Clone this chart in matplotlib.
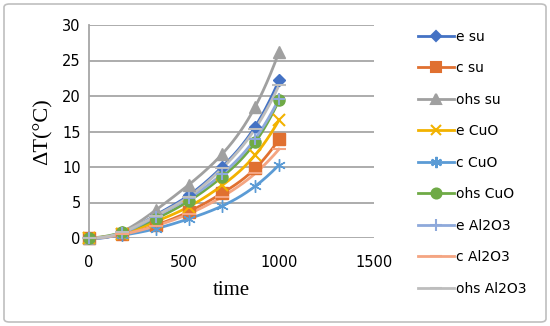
import numpy as np
import matplotlib
matplotlib.use("Agg")
import matplotlib.pyplot as plt
from matplotlib.patches import FancyBboxPatch

time = [0, 175, 350, 525, 700, 875, 1000]

e_su = [0, 0.7, 3.2, 6.0, 10.0, 15.7, 22.2]
c_su = [0, 0.5, 1.8, 3.7, 6.3, 9.8, 13.9]
ohs_su = [0, 0.9, 3.9, 7.5, 11.8, 18.5, 26.2]
e_cuo = [0, 0.6, 2.3, 4.4, 7.4, 11.7, 16.6]
c_cuo = [0, 0.4, 1.3, 2.7, 4.5, 7.3, 10.3]
ohs_cuo = [0, 0.8, 2.7, 5.2, 8.6, 13.5, 19.4]
e_al2o3 = [0, 0.7, 3.0, 5.6, 9.0, 14.0, 19.6]
c_al2o3 = [0, 0.5, 1.7, 3.4, 5.8, 9.1, 12.5]
ohs_al2o3 = [0, 0.8, 3.1, 5.8, 9.8, 15.4, 21.5]

series = [
    ("e su", e_su, "#4472C4", "D", 6),
    ("c su", c_su, "#E07030", "s", 8),
    ("ohs su", ohs_su, "#A0A0A0", "^", 8),
    ("e CuO", e_cuo, "#F2B200", "x", 8),
    ("c CuO", c_cuo, "#5B9BD5", (6, 2, 0), 9),
    ("ohs CuO", ohs_cuo, "#6FAA46", "o", 8),
    ("e Al2O3", e_al2o3, "#8EA9DB", "+", 9),
    ("c Al2O3", c_al2o3, "#F4A582", "_", 10),
    ("ohs Al2O3", ohs_al2o3, "#BDBDBD", "_", 10),
]


def smooth(x, y, n=300):
    # cubic spline through the points, curvature kept at the ends
    x = np.asarray(x, float)
    y = np.asarray(y, float)
    k = len(x)
    h = np.diff(x)
    A = np.zeros((k, k))
    b = np.zeros(k)
    A[0, 0], A[0, 1] = 1, -1
    A[-1, -1], A[-1, -2] = 1, -1
    for i in range(1, k - 1):
        A[i, i - 1] = h[i - 1]
        A[i, i] = 2 * (h[i - 1] + h[i])
        A[i, i + 1] = h[i]
        b[i] = 6 * ((y[i + 1] - y[i]) / h[i] - (y[i] - y[i - 1]) / h[i - 1])
    m = np.linalg.solve(A, b)
    xs = np.linspace(x[0], x[-1], n)
    idx = np.clip(np.searchsorted(x, xs) - 1, 0, k - 2)
    x0, x1 = x[idx], x[idx + 1]
    hh = x1 - x0
    a = (x1 - xs) / hh
    c = (xs - x0) / hh
    ys = (a * y[idx] + c * y[idx + 1]
          + ((a ** 3 - a) * m[idx] + (c ** 3 - c) * m[idx + 1]) * hh ** 2 / 6)
    return xs, ys


fig = plt.figure(figsize=(5.5, 3.26), dpi=100)
ax = fig.add_axes([89 / 550, 1 - 238 / 326, (374 - 89) / 550, (238 - 25) / 326])

for name, vals, col, mk, ms in series:
    sx, sy = smooth(time, vals)
    ax.plot(sx, sy, color=col, lw=2, zorder=3)
    ax.plot(time, vals, linestyle="none", marker=mk, ms=ms, color=col,
            mec=col, mew=1.5 if mk in ("x", "+", "_") else 1, zorder=4)
    ax.plot([], [], color=col, lw=2, marker=mk, ms=ms * 0.9, mew=1.5,
            label=name)

ax.set_xlim(0, 1500)
ax.set_ylim(0, 30)
ax.set_xticks([0, 500, 1000, 1500])
ax.set_yticks(range(0, 31, 5))
ax.grid(axis="y", color="#A6A6A6", lw=1.3)
ax.set_axisbelow(True)
for s in ["top", "right", "bottom"]:
    ax.spines[s].set_visible(False)
ax.spines["left"].set_color("#A6A6A6")
ax.spines["left"].set_linewidth(1.3)
ax.tick_params(length=0, labelsize=10.5, pad=6)
ax.tick_params(axis="x", pad=12)
ax.margins(0)
for line in ax.lines:
    line.set_clip_on(False)

ax.set_xlabel("time", family="Liberation Serif", fontsize=15, labelpad=8)
ax.set_ylabel("ΔT(°C)", family="Liberation Serif", fontsize=16, labelpad=7)

fig.legend(loc="upper left", bbox_to_anchor=(412 / 550, 1 - 24 / 326),
           frameon=False, fontsize=10, handlelength=2.6, handletextpad=0.15,
           labelspacing=1.26, borderaxespad=0)

fig.patches.append(FancyBboxPatch((4 / 550, 4 / 326), 542 / 550, 318 / 326,
                                  boxstyle="round,pad=0,rounding_size=0.01",
                                  transform=fig.transFigure, fill=False,
                                  ec="#BFBFBF", lw=1.2))

fig.savefig("out.png", dpi=100)
